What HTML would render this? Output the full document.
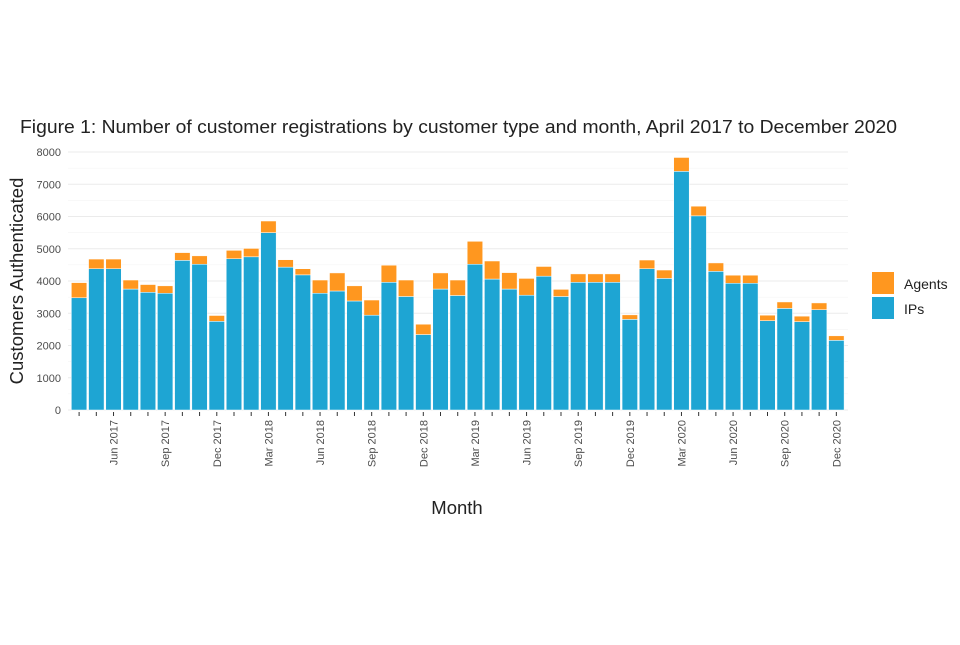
<!DOCTYPE html>
<html><head><meta charset="utf-8"><style>
body{margin:0;background:#fff;font-family:"Liberation Sans",sans-serif}
</style></head><body>
<svg width="960" height="640" xmlns="http://www.w3.org/2000/svg" font-family="Liberation Sans, sans-serif">
<text x="20" y="133" font-size="18.5" fill="#222" textLength="877" lengthAdjust="spacingAndGlyphs">Figure 1: Number of customer registrations by customer type and month, April 2017 to December 2020</text>
<g id="grid"></g><g id="bars"></g><g id="axes"></g>
<text transform="translate(23,281) rotate(-90)" text-anchor="middle" font-size="18.5" fill="#222">Customers Authenticated</text>
<text x="457" y="514" text-anchor="middle" font-size="18.5" fill="#222">Month</text>
<g>
<rect x="872" y="272" width="22" height="22" fill="#ff971f"/>
<rect x="872" y="297" width="22" height="22" fill="#1ea5d3"/>
<text x="904" y="289" font-size="14" fill="#222">Agents</text>
<text x="904" y="314" font-size="14" fill="#222">IPs</text>
</g>
</svg>
<script>
const months=["Apr 2017","May 2017","Jun 2017","Jul 2017","Aug 2017","Sep 2017","Oct 2017","Nov 2017","Dec 2017","Jan 2018","Feb 2018","Mar 2018","Apr 2018","May 2018","Jun 2018","Jul 2018","Aug 2018","Sep 2018","Oct 2018","Nov 2018","Dec 2018","Jan 2019","Feb 2019","Mar 2019","Apr 2019","May 2019","Jun 2019","Jul 2019","Aug 2019","Sep 2019","Oct 2019","Nov 2019","Dec 2019","Jan 2020","Feb 2020","Mar 2020","Apr 2020","May 2020","Jun 2020","Jul 2020","Aug 2020","Sep 2020","Oct 2020","Nov 2020","Dec 2020"];
const ips=[3480,4380,4380,3750,3650,3620,4640,4520,2750,4690,4750,5500,4430,4190,3620,3690,3380,2940,3960,3520,2340,3750,3550,4520,4060,3750,3560,4150,3520,3960,3960,3960,2810,4380,4080,7400,6020,4300,3930,3930,2770,3150,2740,3110,2160];
const totals=[3950,4680,4680,4030,3890,3850,4880,4780,2930,4950,5010,5860,4660,4380,4030,4250,3850,3410,4490,4030,2660,4250,4030,5230,4620,4260,4080,4450,3740,4220,4220,4220,2950,4650,4340,7830,6320,4560,4180,4180,2940,3350,2910,3320,2300];
const yTicks=[0,1000,2000,3000,4000,5000,6000,7000,8000];
const xTickLabels=["Jun 2017","Sep 2017","Dec 2017","Mar 2018","Jun 2018","Sep 2018","Dec 2018","Mar 2019","Jun 2019","Sep 2019","Dec 2019","Mar 2020","Jun 2020","Sep 2020","Dec 2020"];
const NS="http://www.w3.org/2000/svg";
const x0=70.5,band=17.21,y0=410,k=258/8000;
const y=v=>y0-v*k, xc=i=>x0+band*(i+0.5);
function mk(t,a,p){const e=document.createElementNS(NS,t);for(const n in a)e.setAttribute(n,a[n]);p.appendChild(e);return e;}
const g=document.getElementById('grid'),b=document.getElementById('bars'),ax=document.getElementById('axes');
for(let v=500;v<8000;v+=1000){const l=mk('line',{x1:68,x2:848,y1:y(v),y2:y(v),stroke:'#f2f2f2','stroke-width':0.6},g);

}
yTicks.forEach(v=>{const l=mk('line',{x1:68,x2:848,y1:y(v),y2:y(v),stroke:'#ebebeb','stroke-width':1.1},g);


const t=mk('text',{x:61,y:y(v)+4,'text-anchor':'end','font-size':11,fill:'#4d4d4d'},ax);t.textContent=v;

});
months.forEach((m,i)=>{const w=band*0.9,x=xc(i)-w/2;
const r1=mk('rect',{x:x,y:y(ips[i]),width:w,height:ips[i]*k,fill:'#1ea5d3',stroke:'#fff','stroke-width':0.5},b);


const r2=mk('rect',{x:x,y:y(totals[i]),width:w,height:(totals[i]-ips[i])*k,fill:'#ff971f',stroke:'#fff','stroke-width':0.5},b);


const tk=mk('line',{x1:xc(i),x2:xc(i),y1:412,y2:416,stroke:'#333','stroke-width':1},ax);


if(xTickLabels.includes(m)){const t=mk('text',{transform:`translate(${xc(i)+4},420) rotate(-90)`,'text-anchor':'end','font-size':11,fill:'#4d4d4d'},ax);t.textContent=m;

}});
</script>
</body></html>
